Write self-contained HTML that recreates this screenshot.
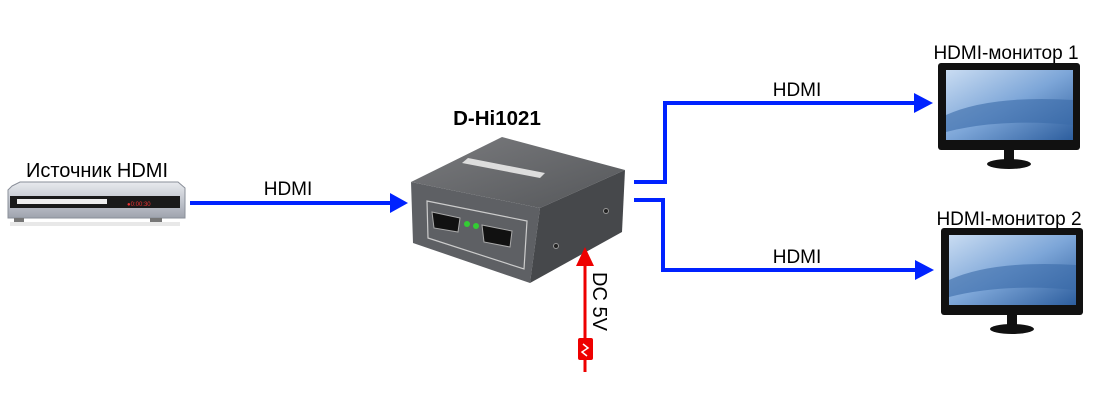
<!DOCTYPE html>
<html><head><meta charset="utf-8"><style>
html,body{margin:0;padding:0;background:#fff;}
svg{display:block;}
text{font-family:"Liberation Sans",sans-serif;fill:#000;}
</style></head><body>
<svg width="1100" height="419" viewBox="0 0 1100 419" xmlns="http://www.w3.org/2000/svg">
<defs>
<linearGradient id="dvd" x1="0" y1="0" x2="0" y2="1">
<stop offset="0" stop-color="#e8eaee"/><stop offset="0.5" stop-color="#c4c8d0"/><stop offset="1" stop-color="#9ea3ad"/>
</linearGradient>
<linearGradient id="scr" x1="0" y1="0" x2="1" y2="1">
<stop offset="0" stop-color="#c9dcf2"/><stop offset="0.5" stop-color="#7da6d8"/><stop offset="1" stop-color="#2d5e9e"/>
</linearGradient>
<linearGradient id="top" x1="0" y1="0" x2="1" y2="1">
<stop offset="0" stop-color="#7a7b7e"/><stop offset="1" stop-color="#55575a"/>
</linearGradient>
</defs>

<!-- DVD source -->
<text x="97" y="177" font-size="20" text-anchor="middle">Источник HDMI</text>
<path d="M12 186 L20 182 L178 182 L185 188 L185 218 L8 218 L8 190 Z" fill="url(#dvd)" stroke="#8a8f99" stroke-width="1"/>
<rect x="10" y="196" width="170" height="12" fill="#1a1a1a"/>
<rect x="17" y="199" width="90" height="5" fill="#eee"/>
<text x="127" y="206" font-size="6" style="fill:#e33">●0:00:30</text>
<rect x="14" y="218" width="10" height="4" fill="#777"/><rect x="150" y="218" width="12" height="4" fill="#777"/>
<rect x="10" y="222" width="170" height="4" fill="#e8e8e8"/>

<!-- arrow in -->
<text x="288" y="195" font-size="19" text-anchor="middle">HDMI</text>
<line x1="190" y1="203" x2="392" y2="203" stroke="#0022ff" stroke-width="4"/>
<polygon points="390,193 408,203 390,213" fill="#0022ff"/>

<!-- splitter -->
<text x="497" y="125" font-size="20.5" font-weight="bold" text-anchor="middle">D-Hi1021</text>
<polygon points="411,182 502,137 625,170 540,208" fill="url(#top)"/>
<polygon points="411,182 540,208 530,283 413,243" fill="#5e6064"/>
<polygon points="540,208 625,170 622,232 530,283" fill="#46484b"/>
<polygon points="468,158 545,173 540,178 462,163" fill="#ddd"/>
<polygon points="427,201 527,221 524,269 428,238" fill="none" stroke="#ccc" stroke-width="1.2"/>
<polygon points="432,212 460,218 458,232 434,228" fill="#111" stroke="#aaa"/>
<polygon points="482,225 512,231 510,247 484,242" fill="#111" stroke="#aaa"/>
<circle cx="467" cy="224" r="3" fill="#3c3"/><circle cx="476" cy="226" r="3" fill="#3c3"/>
<circle cx="606" cy="211" r="2.5" fill="#222" stroke="#999"/>
<circle cx="556" cy="246" r="2.5" fill="#222" stroke="#999"/>

<!-- outputs -->
<polyline points="634,182 665,182 665,103 916,103" fill="none" stroke="#0022ff" stroke-width="4"/>
<polygon points="914,93 933,103 914,113" fill="#0022ff"/>
<polyline points="634,200 663,200 663,270 918,270" fill="none" stroke="#0022ff" stroke-width="4"/>
<polygon points="915,260 934,270 915,280" fill="#0022ff"/>
<text x="797" y="96" font-size="19" text-anchor="middle">HDMI</text>
<text x="797" y="263" font-size="19" text-anchor="middle">HDMI</text>

<!-- monitor 1 -->
<text x="1006" y="59" font-size="19" text-anchor="middle">HDMI-монитор 1</text>
<rect x="938" y="63" width="142" height="87" rx="3" fill="#111"/>
<rect x="946" y="70" width="127" height="70" fill="url(#scr)"/>
<path d="M946 115 Q990 95 1073 100 L1073 125 Q1000 118 946 132 Z" fill="#3a6aa8" opacity="0.6"/>
<rect x="1004" y="150" width="10" height="11" fill="#111"/>
<ellipse cx="1009" cy="164" rx="22" ry="5" fill="#111"/>

<!-- monitor 2 -->
<text x="1009" y="225" font-size="19" text-anchor="middle">HDMI-монитор 2</text>
<rect x="941" y="228" width="142" height="87" rx="3" fill="#111"/>
<rect x="949" y="235" width="127" height="70" fill="url(#scr)"/>
<path d="M949 280 Q993 260 1076 265 L1076 290 Q1003 283 949 297 Z" fill="#3a6aa8" opacity="0.6"/>
<rect x="1007" y="315" width="10" height="11" fill="#111"/>
<ellipse cx="1012" cy="329" rx="22" ry="5" fill="#111"/>

<!-- power -->
<line x1="585" y1="262" x2="585" y2="372" stroke="#ee0000" stroke-width="3"/>
<polygon points="576,266 585,247 594,266" fill="#ee0000"/>
<rect x="578" y="338" width="15" height="22" rx="2" fill="#ee0000"/>
<polyline points="583,344 588,348 582,352 587,356" fill="none" stroke="#fff" stroke-width="1.5"/>
<text transform="translate(593,272) rotate(90)" font-size="20">DC 5V</text>
</svg>
</body></html>
